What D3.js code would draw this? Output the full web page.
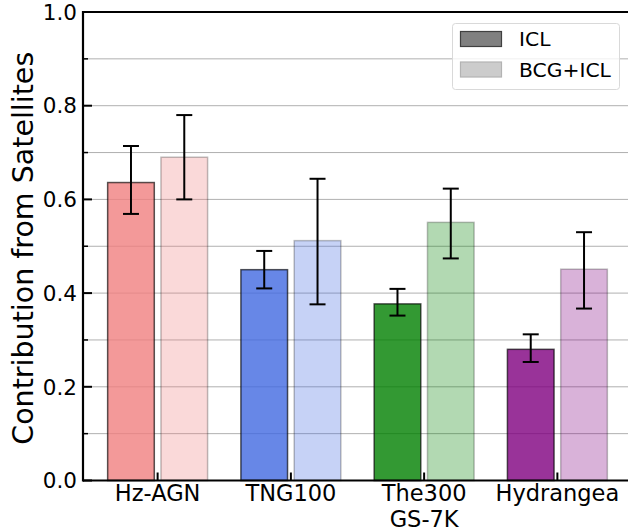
<!DOCTYPE html>
<html>
<head>
<meta charset="utf-8">
<script src="https://cdn.jsdelivr.net/npm/d3@7"></script>
<style>
  body { margin: 0; background: #fff; }
  text { font-family: "DejaVu Sans", sans-serif; fill: #000; }
</style>
</head>
<body>
<script>
// simulations on the x axis (second line for The300)
const sims = ["Hz-AGN", "TNG100", "The300\nGS-7K", "Hydrangea"]
const baseColors = ["#f08080", "#4169e1", "#008000", "#800080"]

// fraction of stellar mass contributed by satellites
const iclValue = [0.636, 0.450, 0.377, 0.280]
const iclLow   = [0.569, 0.410, 0.352, 0.253]
const iclHigh  = [0.714, 0.490, 0.409, 0.312]

const bcgValue = [0.690, 0.512, 0.551, 0.451]
const bcgLow   = [0.600, 0.376, 0.474, 0.367]
const bcgHigh  = [0.780, 0.644, 0.623, 0.530]

const yTicks = [0, 0.2, 0.4, 0.6, 0.8, 1.0]
const yMinor = [0.1, 0.3, 0.5, 0.7, 0.9]

const W = 628, H = 532
const pLeft = 83, pTop = 12, pBottom = 480.5, pRight = 640

const svg = d3.select("body").append("svg")
  .attr("width", W)
  .attr("height", H)

const x = d3.scaleLinear().domain([-0.56, 3.62]).range([pLeft, pRight])
const y = d3.scaleLinear().domain([0, 1]).range([pBottom, pTop])

const barW = 0.35, offset = 0.2

// grid behind the bars
svg.append("g")
  .selectAll("line")
  .data(yTicks.concat(yMinor).filter(d => d > 0 && d < 1))
  .join("line")
  .attr("x1", pLeft).attr("x2", pRight)
  .attr("y1", d => y(d)).attr("y2", d => y(d))
  .attr("stroke", "#b0b0b0")
  .attr("stroke-width", 1)

function drawSeries(values, lows, highs, dx, alpha, edgeAlpha) {
  const g = svg.append("g")
  g.selectAll("rect")
    .data(values)
    .join("rect")
    .attr("x", (d, i) => x(i + dx - barW / 2))
    .attr("width", x(barW) - x(0))
    .attr("y", d => y(d))
    .attr("height", d => y(0) - y(d))
    .attr("fill", (d, i) => baseColors[i])
    .attr("fill-opacity", alpha)
    .attr("stroke", "#000")
    .attr("stroke-opacity", edgeAlpha)
    .attr("stroke-width", 1.5)

  // error bars
  const cap = 8
  values.forEach((v, i) => {
    const cx = x(i + dx)
    g.append("line")
      .attr("x1", cx).attr("x2", cx)
      .attr("y1", y(lows[i])).attr("y2", y(highs[i]))
      .attr("stroke", "#000").attr("stroke-width", 2)
    ;[lows[i], highs[i]].forEach(e => {
      g.append("line")
        .attr("x1", cx - cap).attr("x2", cx + cap)
        .attr("y1", y(e)).attr("y2", y(e))
        .attr("stroke", "#000").attr("stroke-width", 2)
    })
  })
}

drawSeries(iclValue, iclLow, iclHigh, -offset, 0.8, 0.65)
drawSeries(bcgValue, bcgLow, bcgHigh, offset, 0.3, 0.25)

// spines
svg.append("line")
  .attr("x1", pLeft).attr("x2", pRight).attr("y1", pTop).attr("y2", pTop)
  .attr("stroke", "#000").attr("stroke-width", 2.2)
svg.append("line")
  .attr("x1", pLeft).attr("x2", pRight).attr("y1", pBottom).attr("y2", pBottom)
  .attr("stroke", "#000").attr("stroke-width", 2.2)
svg.append("line")
  .attr("x1", pLeft).attr("x2", pLeft).attr("y1", pTop - 1.1).attr("y2", pBottom + 1.1)
  .attr("stroke", "#000").attr("stroke-width", 2.2)

// y ticks (inward)
svg.append("g").selectAll("line")
  .data(yTicks)
  .join("line")
  .attr("x1", pLeft).attr("x2", pLeft + 9)
  .attr("y1", d => y(d)).attr("y2", d => y(d))
  .attr("stroke", "#000").attr("stroke-width", 2)
svg.append("g").selectAll("line")
  .data(yMinor)
  .join("line")
  .attr("x1", pLeft).attr("x2", pLeft + 5)
  .attr("y1", d => y(d)).attr("y2", d => y(d))
  .attr("stroke", "#000").attr("stroke-width", 1.5)

svg.append("g").selectAll("text")
  .data(yTicks)
  .join("text")
  .attr("x", pLeft - 6)
  .attr("y", d => y(d))
  .attr("dy", "0.36em")
  .attr("text-anchor", "end")
  .style("font-size", "21.5px")
  .text(d => d.toFixed(1))

// x ticks (inward)
svg.append("g").selectAll("line")
  .data(sims)
  .join("line")
  .attr("x1", (d, i) => x(i)).attr("x2", (d, i) => x(i))
  .attr("y1", pBottom).attr("y2", pBottom - 8)
  .attr("stroke", "#000").attr("stroke-width", 2)

svg.append("g").selectAll("text")
  .data(sims)
  .join("text")
  .attr("x", (d, i) => x(i))
  .attr("y", 501)
  .attr("text-anchor", "middle")
  .style("font-size", "22.5px")
  .selectAll("tspan")
  .data(d => d.split("\n"))
  .join("tspan")
  .attr("x", function() { return this.parentNode.getAttribute("x") })
  .attr("dy", (d, i) => i ? 26 : 0)
  .text(d => d)

// y label
svg.append("text")
  .attr("transform", `translate(33,${(pTop + pBottom) / 2 + 2}) rotate(-90)`)
  .attr("text-anchor", "middle")
  .style("font-size", "28.5px")
  .text("Contribution from Satellites")

// legend
const leg = svg.append("g")
leg.append("rect")
  .attr("x", 452.5).attr("y", 23.5).attr("width", 167).attr("height", 66)
  .attr("rx", 3)
  .attr("fill", "#fff").attr("fill-opacity", 0.8)
  .attr("stroke", "#d9d9d9").attr("stroke-width", 1)
const legItems = [
  { label: "ICL", fill: "#808080", stroke: "#404040" },
  { label: "BCG+ICL", fill: "#cccccc", stroke: "#b3b3b3" }
]
legItems.forEach((it, i) => {
  leg.append("rect")
    .attr("x", 460.5).attr("y", 31.5 + i * 30.5).attr("width", 41).attr("height", 15)
    .attr("fill", it.fill).attr("stroke", it.stroke).attr("stroke-width", 1.2)
  leg.append("text")
    .attr("x", 519).attr("y", 46 + i * 30.5)
    .style("font-size", "20.3px")
    .text(it.label)
})
</script>
</body>
</html>
